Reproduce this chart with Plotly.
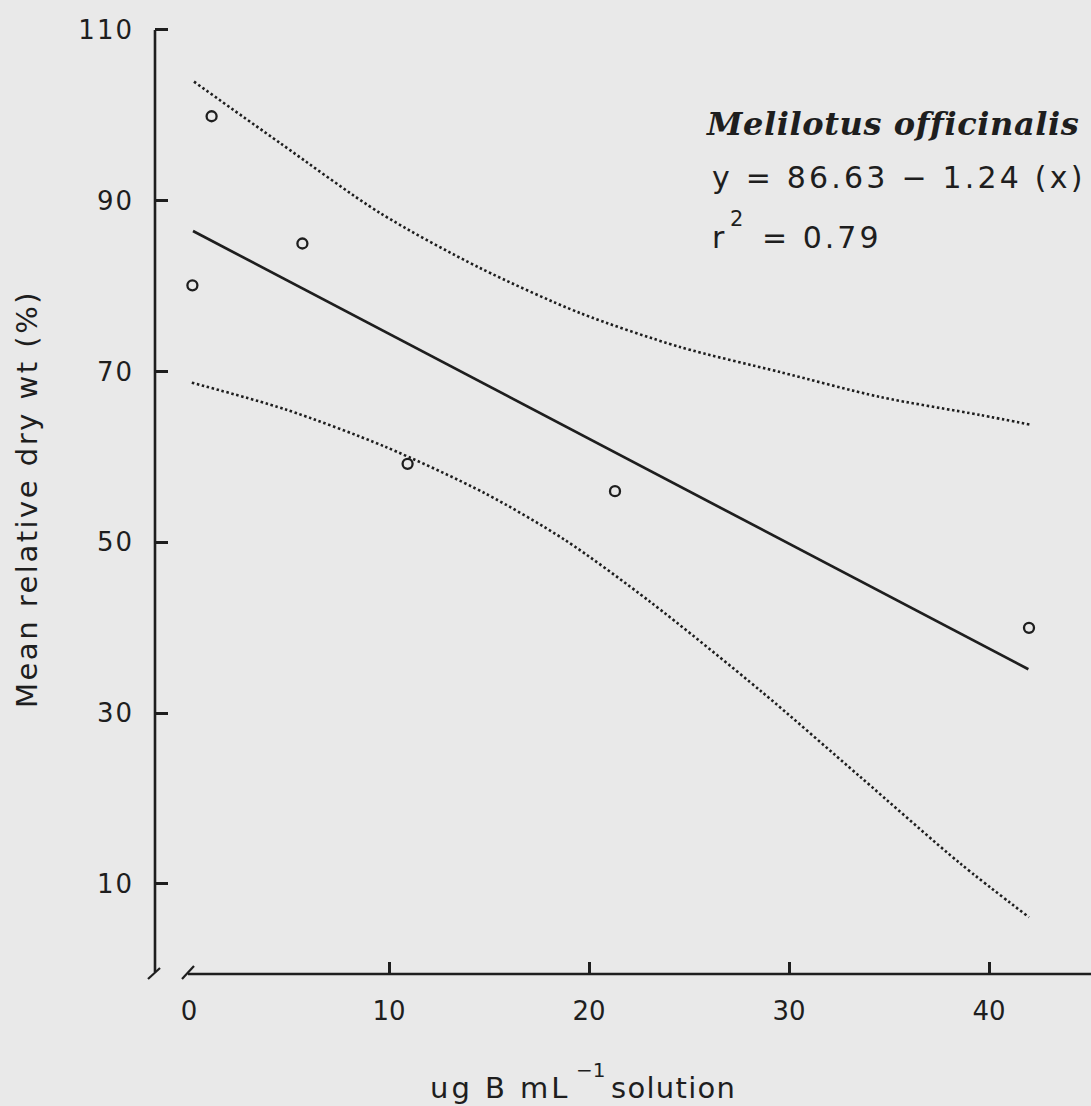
import plotly.graph_objects as go

# ---- data ----
obs_x = [0.17, 1.13, 5.67, 10.93, 21.3, 42.0]
obs_y = [80.1, 99.9, 85.0, 59.2, 56.0, 40.0]

fit_x = [0.2, 41.97]
fit_y = [86.46, 35.14]

upper_x = [0.25, 4.55, 9.55, 14.55, 19.55, 24.55, 29.55, 34.55, 39.55, 42.15]
upper_y = [103.95, 96.77, 88.57, 82.13, 76.86, 72.88, 69.95, 67.03, 64.92, 63.75]

lower_x = [0.14, 4.8, 9.8, 14.8, 18.8, 23.05, 28.63, 33.55, 38.55, 42.0]
lower_y = [68.70, 65.59, 61.21, 55.75, 50.28, 43.06, 32.52, 22.57, 12.42, 6.1]

x_ticks = [0, 10, 20, 30, 40]
x_tick_marks = [10, 20, 30, 40]
y_ticks = [10, 30, 50, 70, 90, 110]

species = "Melilotus officinalis"
equation = "y = 86.63 \u2212 1.24 (x)"
r_text = "r"
r_sup = "2"
r_value = "= 0.79"
y_title = "Mean relative dry wt (%)"
x_title_a = "ug B mL"
x_title_sup = "\u22121"
x_title_b = "solution"

INK = "#1e1e1e"
BG = "#e9e9e9"
SANS = "DejaVu Sans"

W, H = 1091, 1106
ML, MR, MT, MB = 155, 0, 20, 132
PW = W - ML - MR
PH = H - MT - MB


def px(xpix):
    return (xpix - ML) / PW


def py(ypix):
    return (H - MB - ypix) / PH


def spaced(t, s):
    return '<span style="letter-spacing:%spx">%s</span>' % (s, t)


fig = go.Figure()
fig.add_trace(go.Scatter(x=upper_x, y=upper_y, mode="lines",
                         line=dict(color=INK, width=2.6, dash="2.5px,2.6px",
                                   shape="spline", smoothing=0.8)))
fig.add_trace(go.Scatter(x=lower_x, y=lower_y, mode="lines",
                         line=dict(color=INK, width=2.6, dash="2.5px,2.6px",
                                   shape="spline", smoothing=0.8)))
fig.add_trace(go.Scatter(x=fit_x, y=fit_y, mode="lines",
                         line=dict(color=INK, width=2.7)))
fig.add_trace(go.Scatter(x=obs_x, y=obs_y, mode="markers",
                         marker=dict(symbol="circle-open", size=10, color=INK,
                                     line=dict(width=2.3, color=INK))))

fig.update_layout(
    width=W, height=H,
    margin=dict(l=ML, r=MR, t=MT, b=MB),
    paper_bgcolor=BG, plot_bgcolor="rgba(0,0,0,0)",
    showlegend=False,
    xaxis=dict(range=[-1.7, 45.1], showgrid=False, zeroline=False, showline=False,
               tickmode="array", tickvals=x_ticks, ticktext=[str(v) for v in x_ticks],
               ticks="", tickfont=dict(family=SANS, size=26, color=INK),
               ticklabelstandoff=19,
               minor=dict(tickmode="array", tickvals=x_tick_marks, ticks="inside",
                          ticklen=12, tickwidth=2.5, tickcolor=INK, showgrid=False)),
    yaxis=dict(range=[-0.54, 111.17], showgrid=False, zeroline=False, showline=False,
               tickmode="array", tickvals=y_ticks,
               ticktext=[spaced(str(v), 2) for v in y_ticks],
               ticks="inside", ticklen=13, tickwidth=2.5, tickcolor=INK,
               tickfont=dict(family=SANS, size=26, color=INK),
               ticklabelstandoff=20),
)

line = dict(color=INK, width=2.6)
shapes = [
    # y axis line
    dict(type="line", xref="paper", yref="paper", x0=0, x1=0, y0=py(972), y1=py(30), line=line),
    # x axis line
    dict(type="line", xref="paper", yref="paper", x0=px(188), x1=1.0, y0=0, y1=0, line=line),
    # axis break slashes
    dict(type="line", xref="paper", yref="paper", x0=px(148), x1=px(160), y0=py(979), y1=py(968),
         line=dict(color=INK, width=2.2)),
    dict(type="line", xref="paper", yref="paper", x0=px(182), x1=px(194), y0=py(979), y1=py(966),
         line=dict(color=INK, width=2.2)),
]
fig.update_layout(shapes=shapes)

ann = []
ann.append(dict(text="<b><i>%s</i></b>" % spaced(species, 0.6), xref="paper", yref="paper",
                x=px(704), y=py(124), xanchor="left", yanchor="middle", showarrow=False,
                font=dict(family="DejaVu Serif", size=32, color=INK)))
ann.append(dict(text=spaced(equation, 3.2), xref="paper", yref="paper",
                x=px(710), y=py(177), xanchor="left", yanchor="middle", showarrow=False,
                font=dict(family=SANS, size=30, color=INK)))
ann.append(dict(text=r_text, xref="paper", yref="paper",
                x=px(710), y=py(237), xanchor="left", yanchor="middle", showarrow=False,
                font=dict(family=SANS, size=30, color=INK)))
ann.append(dict(text=r_sup, xref="paper", yref="paper",
                x=px(736), y=py(219), xanchor="center", yanchor="middle", showarrow=False,
                font=dict(family=SANS, size=21, color=INK)))
ann.append(dict(text=spaced(r_value, 3), xref="paper", yref="paper",
                x=px(760), y=py(237), xanchor="left", yanchor="middle", showarrow=False,
                font=dict(family=SANS, size=30, color=INK)))
ann.append(dict(text=spaced(y_title, 2.5), xref="paper", yref="paper",
                x=px(27), y=py(499), xanchor="center", yanchor="middle", showarrow=False,
                textangle=-90, font=dict(family=SANS, size=29, color=INK)))
ann.append(dict(text=spaced(x_title_a, 3), xref="paper", yref="paper",
                x=px(428), y=py(1088), xanchor="left", yanchor="middle", showarrow=False,
                font=dict(family=SANS, size=29, color=INK)))
ann.append(dict(text=x_title_sup, xref="paper", yref="paper",
                x=px(590), y=py(1070), xanchor="center", yanchor="middle", showarrow=False,
                font=dict(family=SANS, size=20, color=INK)))
ann.append(dict(text=spaced(x_title_b, 1.3), xref="paper", yref="paper",
                x=px(609), y=py(1088), xanchor="left", yanchor="middle", showarrow=False,
                font=dict(family=SANS, size=29, color=INK)))
fig.update_layout(annotations=ann)

fig.write_html(
    "out.html",
    config={"displayModeBar": False},
    post_script="document.body.style.margin='0px';document.body.style.background='%s';" % BG,
)
